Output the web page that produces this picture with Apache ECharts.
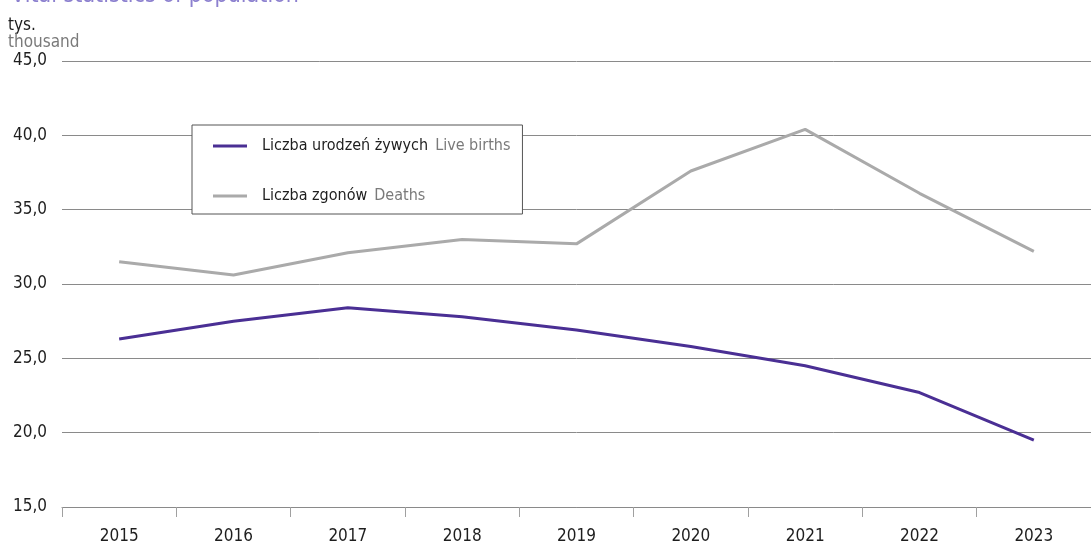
<!DOCTYPE html>
<html>
<head>
<meta charset="utf-8">
<script src="https://cdn.jsdelivr.net/npm/echarts@6/dist/echarts.min.js"></script>
<style>
html,body{margin:0;padding:0;background:#fff;}
#c{width:1091px;height:550px;}
</style>
</head>
<body>
<div id="c"></div>
<script>
const years = ['2015','2016','2017','2018','2019','2020','2021','2022','2023'];
const liveBirths = [26.3, 27.5, 28.4, 27.8, 26.9, 25.8, 24.5, 22.7, 19.5];
const deaths = [31.5, 30.6, 32.1, 33.0, 32.7, 37.6, 40.4, 36.1, 32.2];
const seriesNamesPl = ['Liczba urodzeń żywych', 'Liczba zgonów'];
const seriesNamesEn = ['Live births', 'Deaths'];
const titleText = 'Vital statistics of population';
const unitPl = 'tys.';
const unitEn = 'thousand';
const yMin = 15, yMax = 45, yStep = 5;

const FONT = "'Liberation Sans Narrow', 'DejaVu Sans Condensed', 'Noto Sans', sans-serif";

const chart = echarts.init(document.getElementById('c'), null, {renderer: 'canvas'});
chart.setOption({
  animation: false,
  textStyle: {fontFamily: FONT},
  title: [
    {
      text: titleText, left: 6, top: -20,
      textStyle: {fontFamily: FONT, fontSize: 23, fontWeight: 'normal', color: '#8c80cf'}
    },
    {
      text: unitPl, subtext: unitEn, left: 8, top: 18, itemGap: 0, padding: 0,
      textStyle: {fontFamily: FONT, fontSize: 17, fontWeight: 'normal', color: '#1e1e1e', lineHeight: 15},
      subtextStyle: {fontFamily: FONT, fontSize: 17, color: '#7a7a7a', lineHeight: 15}
    }
  ],
  legend: {
    orient: 'vertical',
    left: 192, top: 125,
    backgroundColor: '#fff',
    borderColor: '#555',
    borderWidth: 1,
    padding: [12, 12, 9, 21],
    itemGap: 32,
    itemWidth: 34,
    itemHeight: 3,
    icon: 'rect',
    data: seriesNamesPl,
    formatter: function (name) {
      const i = seriesNamesPl.indexOf(name);
      return '{a|' + name + '}{b|' + seriesNamesEn[i] + '}';
    },
    textStyle: {
      rich: {
        a: {fontFamily: FONT, fontSize: 16, color: '#1e1e1e', height: 18, lineHeight: 18, padding: [0, 0, 0, 10]},
        b: {fontFamily: FONT, fontSize: 16, color: '#7a7a7a', height: 18, lineHeight: 18, padding: [0, 0, 0, 7]}
      }
    }
  },
  grid: {left: 62, top: 61, width: 1039, height: 446, containLabel: false},
  xAxis: {
    type: 'category',
    data: years,
    boundaryGap: true,
    axisLine: {show: true, lineStyle: {color: '#8a8a8a', width: 1}},
    axisTick: {show: true, length: 10, lineStyle: {color: '#a0a0a0', width: 1}},
    axisLabel: {fontFamily: FONT, fontSize: 17, color: '#1e1e1e', margin: 21},
    splitLine: {show: false}
  },
  yAxis: {
    type: 'value',
    min: yMin, max: yMax, interval: yStep,
    axisLine: {show: false},
    axisTick: {show: false},
    axisLabel: {
      fontFamily: FONT, fontSize: 17, color: '#1e1e1e', margin: 15,
      formatter: v => v.toFixed(1).replace('.', ',')
    },
    splitLine: {show: true, lineStyle: {color: '#8a8a8a', width: 1}}
  },
  series: [
    {
      name: seriesNamesPl[0], type: 'line', data: liveBirths,
      symbol: 'none', lineStyle: {color: '#4a2f94', width: 3},
      itemStyle: {color: '#4a2f94'}, z: 3
    },
    {
      name: seriesNamesPl[1], type: 'line', data: deaths,
      symbol: 'none', lineStyle: {color: '#aaaaaa', width: 3},
      itemStyle: {color: '#aaaaaa'}, z: 2
    }
  ]
});
</script>
</body>
</html>
